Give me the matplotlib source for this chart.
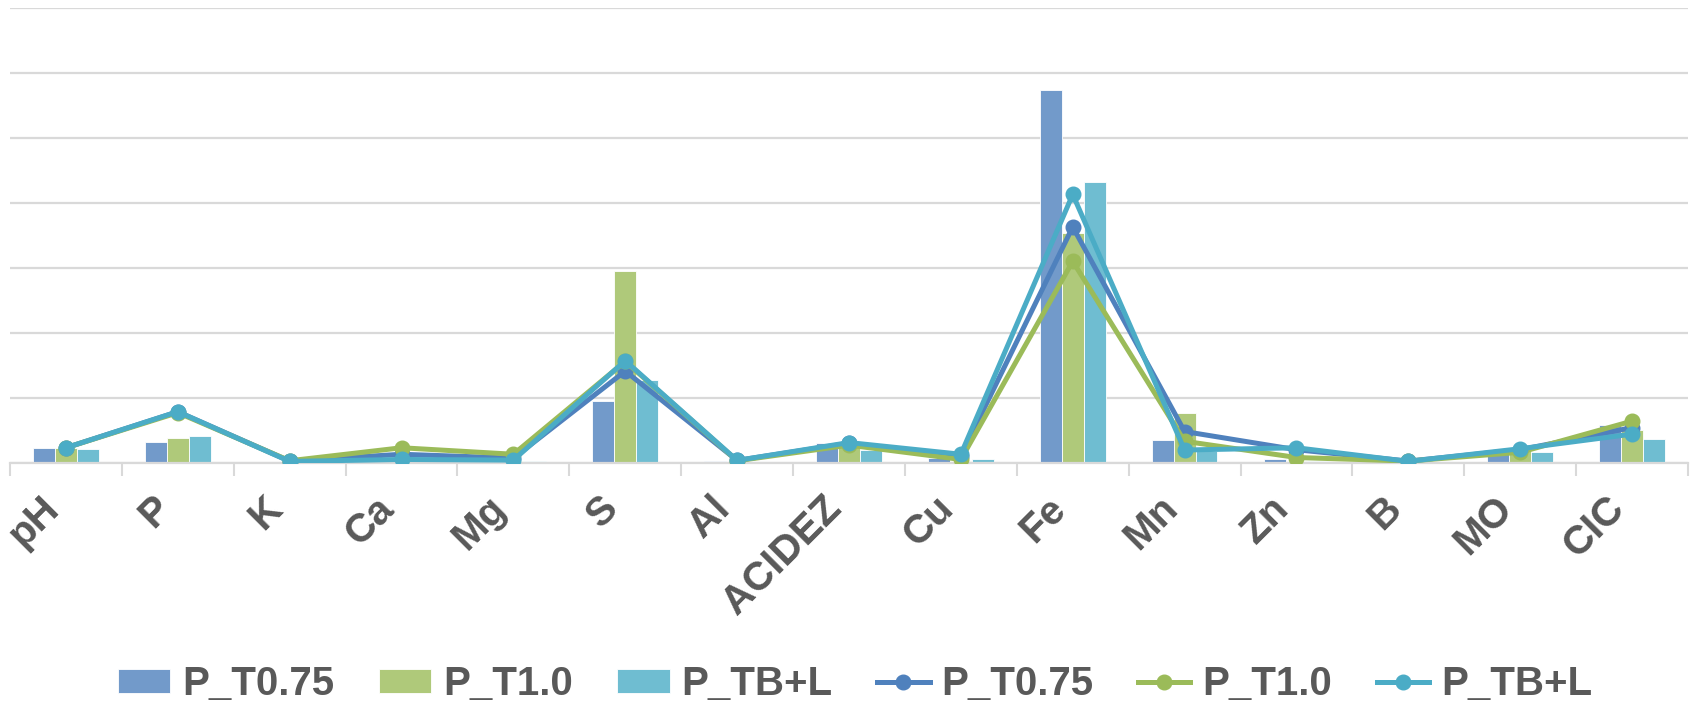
import numpy as np
import matplotlib.pyplot as plt

plt.rcParams['font.family'] = ['Liberation Sans', 'DejaVu Sans']

categorias = ["pH", "P", "K", "Ca", "Mg", "S", "Al", "ACIDEZ", "Cu", "Fe", "Mn", "Zn", "B", "MO", "CIC"]
nomes = ["P_T0.75", "P_T1.0", "P_TB+L"]

# barras
barras_t075 = [0.22, 0.32, 0.01, 0.02, 0.01, 0.95, 0.02, 0.30, 0.08, 5.73, 0.35, 0.05, 0.005, 0.13, 0.58]
barras_t10 = [0.23, 0.385, 0.01, 0.02, 0.02, 2.95, 0.01, 0.28, 0.03, 3.54, 0.76, 0.02, 0.005, 0.20, 0.51]
barras_tbl = [0.206, 0.41, 0.01, 0.01, 0.02, 1.28, 0.01, 0.20, 0.05, 4.32, 0.18, 0.02, 0.005, 0.16, 0.36]

# linhas
linha_t075 = [0.23, 0.785, 0.025, 0.13, 0.07, 1.41, 0.035, 0.30, 0.10, 3.63, 0.48, 0.20, 0.025, 0.20, 0.54]
linha_t10 = [0.23, 0.77, 0.03, 0.23, 0.13, 1.56, 0.03, 0.27, 0.05, 3.10, 0.33, 0.08, 0.025, 0.16, 0.64]
linha_tbl = [0.23, 0.785, 0.02, 0.05, 0.04, 1.57, 0.035, 0.31, 0.13, 4.13, 0.195, 0.23, 0.02, 0.215, 0.44]

cores_barra = ["#729ACA", "#AFC97A", "#6FBDD1"]
cores_linha = ["#4F81BD", "#9BBB59", "#4BACC6"]
cinza = "#D9D9D9"
texto = "#595959"

fig = plt.figure(figsize=(16.94, 7.06), dpi=100)
ax = fig.add_axes([10/1694, 1-462.7/706, 1678/1694, 454.7/706])

x = np.arange(len(categorias))
w = 0.196
handles = []
for i, (vals, c, nome) in enumerate(zip([barras_t075, barras_t10, barras_tbl], cores_barra, nomes)):
    h = ax.bar(x + (i-1)*w, vals, w, color=c, edgecolor='white', linewidth=0.6, label=nome, zorder=2)
    handles.append(h)
for vals, c, nome in zip([linha_t075, linha_t10, linha_tbl], cores_linha, nomes):
    h, = ax.plot(x, vals, color=c, lw=3.6, marker='o', markersize=10.5, label=nome, zorder=3)
    handles.append(h)

ax.set_xlim(-0.5, len(categorias)-0.5)
ax.set_ylim(0, 7)
ax.set_yticks(np.arange(0, 8))
ax.yaxis.grid(True, color=cinza, lw=1.6, zorder=0)
ax.set_axisbelow(True)
ax.tick_params(axis='y', left=False, labelleft=False)

ax.set_xticks(x)
ax.set_xticklabels(categorias, rotation=45, ha='right', fontsize=29, fontweight='bold', color=texto)
ax.tick_params(axis='x', which='major', length=0, pad=19)
ax.set_xticks(np.arange(-0.5, len(categorias)), minor=True)
ax.tick_params(axis='x', which='minor', length=9, width=1.5, color=cinza)

for s in ['top', 'left', 'right']:
    ax.spines[s].set_visible(False)
ax.spines['bottom'].set_color(cinza)
ax.spines['bottom'].set_linewidth(1.6)

leg = fig.legend(handles=handles, loc='center', bbox_to_anchor=(855/1694, 1-684/706), ncol=6,
                 frameon=False, prop={'weight': 'bold', 'size': 29},
                 handlelength=1.3, handleheight=0.55, handletextpad=0.3, columnspacing=1.1)
for t in leg.get_texts():
    t.set_color(texto)

fig.savefig("out.png", dpi=100)
